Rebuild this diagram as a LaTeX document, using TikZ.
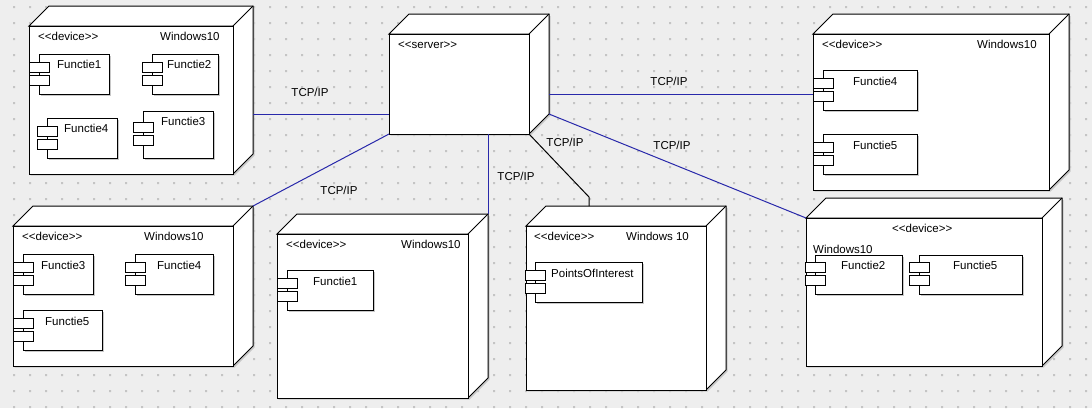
\documentclass[tikz,border=0pt]{standalone}
\usepackage{fontspec}
\newfontfamily\umlfont{Liberation Sans}
\usetikzlibrary{calc}
\definecolor{bgc}{RGB}{238,238,238}
\definecolor{dotc}{RGB}{196,196,196}
\definecolor{linkc}{RGB}{40,40,170}
\definecolor{shadc}{RGB}{200,200,200}
\tikzset{
  edge/.style={line width=1pt, line join=miter},
  face/.style={draw, fill=white, line width=1pt, inner sep=0pt, outer sep=0pt, anchor=north west},
  compbox/.style={draw, fill=white, line width=1pt, inner sep=0pt, outer sep=0pt, anchor=north west},
  comptab/.style={draw, fill=white, line width=1pt, inner sep=0pt, outer sep=0pt, minimum width=20pt, minimum height=10pt},
  lbl/.style={font=\umlfont\fontsize{11.5}{13}\selectfont, inner sep=0pt, anchor=base west},
  linklbl/.style={font=\umlfont\fontsize{11.5}{13}\selectfont, inner sep=0pt, anchor=base},
  conn/.style={draw=linkc, line width=1pt},
  connb/.style={draw=black, line width=1pt},
}
% name, x1, y1, x2, y2 (front face)
\newcommand\cubebox[5]{%
  \coordinate (#1-bnw) at (#2+20,#3-20);
  \coordinate (#1-bne) at (#4+20,#3-20);
  \coordinate (#1-bse) at (#4+20,#5-20);
  \fill[shadc] (#4+20,#3-18) -- (#4+21.5,#3-18) -- (#4+21.5,#5-18.5) -- (#4+1.5,#5+1.5) -- (#2+1.5,#5+1.5) -- (#2+1.5,#5) -- cycle;
  \filldraw[edge,fill=white] (#2,#3) -- (#1-bnw) -- (#1-bne) -- (#1-bse) -- (#4,#5) -- (#4,#3) -- cycle;
  \draw[edge] (#4,#3) -- (#1-bne);
  \node[face, minimum width={(#4-#2)*1pt}, minimum height={(#5-#3)*1pt}] (#1) at (#2,#3) {};
}
% name, x1, y1, x2, y2 (component box)
\newcommand\umlcomp[5]{%
  \fill[shadc] (#2+1.5,#3+1.5) rectangle (#4+1.5,#5+1.5);
  \node[compbox, minimum width={(#4-#2)*1pt}, minimum height={(#5-#3)*1pt}] (#1) at (#2,#3) {};
  \node[comptab] (#1-t1) at ($(#1.west)+(0,-7)$) {};
  \node[comptab] (#1-t2) at ($(#1.west)+(0,6)$) {};
}
\begin{document}
\begin{tikzpicture}[x=1pt,y=-1pt]
\useasboundingbox (0,0) rectangle (1092,408);
\fill[bgc] (0,0) rectangle (1092,408);
\fill[dotc] \foreach \i in {0,...,67} { \foreach \j in {0,...,25} { (13+16*\i,6+16*\j) rectangle ++(2,2) } };

% ---- nodes
\cubebox{srv}{389}{34}{529}{134}
\cubebox{n1}{29}{26}{233}{174}
\cubebox{n2}{813}{34}{1049}{190}
\cubebox{n3}{806}{218}{1042}{366}
\cubebox{n4}{13}{226}{233}{366}
\cubebox{n5}{277}{234}{468}{398}
\cubebox{n6}{526}{226}{706}{390}

% ---- connectors
\draw[conn] ($(srv.south west)+(0,-20)$) -- ($(n1-bse)+(0,-40)$);
\draw[conn] ($(srv-bse)+(0,-20)$) -- ($(n2.north west)+(0,60)$);
\draw[conn] (srv-bse) -- (n3.north west);
\draw[conn] (srv.south west) -- (n4-bne);
\draw[conn] (n5-bne) -- (n5-bne |- srv.south);
\draw[connb] (srv.south east) -- ($(n6-bnw)+(43,-9)$) -- ($(n6-bnw)+(43,0)$);

\node[linklbl] (l1) at (310,96) {TCP/IP};
\node[linklbl] (l2) at (669,85) {TCP/IP};
\node[linklbl] (l3) at (672,149) {TCP/IP};
\node[linklbl] (l4) at (339,194) {TCP/IP};
\node[linklbl] (l5) at (516,180) {TCP/IP};
\node[linklbl] (l6) at (565,146) {TCP/IP};

% ---- server
\node[lbl] (srv-st) at (398,48) {<<server>>};

% ---- node 1 (top left)
\node[lbl] (n1-st) at (38,40) {<<device>>};
\node[lbl] (n1-os) at (160,40) {Windows10};
\umlcomp{n1a}{39}{54}{109}{94}
\umlcomp{n1b}{152}{54}{218}{94}
\umlcomp{n1c}{47}{118}{117}{158}
\umlcomp{n1d}{143}{111}{213}{158}
\node[lbl] (n1a-l) at (57,68) {Functie1};
\node[lbl] (n1b-l) at (167,68) {Functie2};
\node[lbl] (n1c-l) at (64,132) {Functie4};
\node[lbl] (n1d-l) at (161,125) {Functie3};

% ---- node 2 (top right)
\node[lbl] (n2-st) at (822,48) {<<device>>};
\node[lbl] (n2-os) at (977,48) {Windows10};
\umlcomp{n2a}{823}{70}{917}{110}
\umlcomp{n2b}{823}{134}{917}{174}
\node[lbl] (n2a-l) at (853,85) {Functie4};
\node[lbl] (n2b-l) at (853,149) {Functie5};

% ---- node 3 (bottom right)
\node[lbl] (n3-st) at (892,232) {<<device>>};
\node[lbl] (n3-os) at (813,253) {Windows10};
\umlcomp{n3a}{815}{255}{902}{294}
\umlcomp{n3b}{919}{255}{1022}{294}
\node[lbl] (n3a-l) at (841,269) {Functie2};
\node[lbl] (n3b-l) at (953,269) {Functie5};

% ---- node 4 (bottom left)
\node[lbl] (n4-st) at (22,240) {<<device>>};
\node[lbl] (n4-os) at (144,240) {Windows10};
\umlcomp{n4a}{23}{254}{93}{294}
\umlcomp{n4b}{135}{254}{213}{294}
\umlcomp{n4c}{23}{310}{102}{350}
\node[lbl] (n4a-l) at (41,269) {Functie3};
\node[lbl] (n4b-l) at (157,269) {Functie4};
\node[lbl] (n4c-l) at (45,325) {Functie5};

% ---- node 5 (bottom middle)
\node[lbl] (n5-st) at (286,248) {<<device>>};
\node[lbl] (n5-os) at (401,248) {Windows10};
\umlcomp{n5a}{287}{270}{373}{310}
\node[lbl] (n5a-l) at (313,285) {Functie1};

% ---- node 6 (points of interest)
\node[lbl] (n6-st) at (534,240) {<<device>>};
\node[lbl] (n6-os) at (626,240) {Windows 10};
\umlcomp{n6a}{535}{262}{642}{302}
\node[lbl] (n6a-l) at (551,277) {PointsOfInterest};
\end{tikzpicture}
\end{document}
